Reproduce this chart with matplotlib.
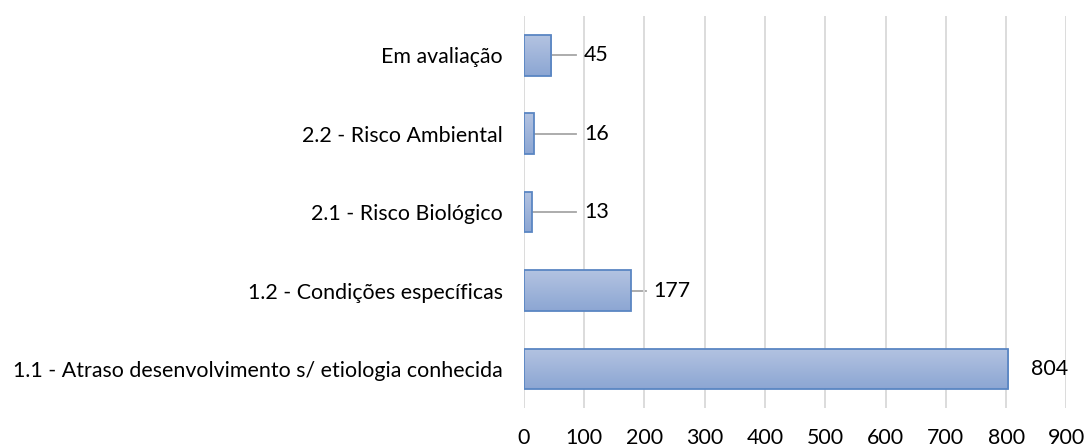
import numpy as np
import matplotlib
matplotlib.use("Agg")
import matplotlib.pyplot as plt
from matplotlib.colors import LinearSegmentedColormap

# categorias de baixo para cima, como no grafico
categorias = [
    "1.1 - Atraso desenvolvimento s/ etiologia conhecida",
    "1.2 - Condições específicas",
    "2.1 - Risco Biológico",
    "2.2 - Risco Ambiental",
    "Em avaliação",
]
valores = [804, 177, 13, 16, 45]
ticks_x = [0, 100, 200, 300, 400, 500, 600, 700, 800, 900]

plt.rcParams['font.family'] = ['Lato', 'DejaVu Sans']
tam = 15.4

fig = plt.figure(figsize=(10.87, 4.47), dpi=100)
ax = fig.add_axes([0.482, 0.087, 0.499, 0.877])

y = np.arange(len(categorias))
barras = ax.barh(y, valores, height=0.52, color='none', edgecolor='#5a86c3',
                 linewidth=1.3, zorder=3)

# degradê dentro de cada barra
cmap = LinearSegmentedColormap.from_list("grad", ["#b3c3e1", "#8ca6d3"])
grad = np.linspace(0, 1, 100).reshape(-1, 1)
for b in barras:
    x0, y0 = b.get_x(), b.get_y()
    w, h = b.get_width(), b.get_height()
    im = ax.imshow(grad, cmap=cmap, aspect='auto', extent=(x0, x0 + w, y0, y0 + h),
                   origin='upper', zorder=2)
    im.set_clip_path(b)

# rótulos com linha de chamada (a barra maior fica sem linha)
for yi, v in zip(y, valores):
    lx = max(v + 38, 100)
    ax.text(lx, yi, str(v), va='center', ha='left', fontsize=tam, color='black', zorder=4)
    if v < max(valores) / 2:
        ax.plot([v, lx - 13], [yi, yi], color='#a6a6a6', lw=1.3, zorder=1)

ax.set_xlim(0, 900)
ax.set_ylim(-0.5, len(categorias) - 0.5)
ax.set_xticks(ticks_x)
ax.set_yticks(y)
ax.set_yticklabels(categorias)
ax.grid(axis='x', color='#d9d9d9', lw=1.3, zorder=0)
for s in ax.spines.values():
    s.set_visible(False)
ax.tick_params(axis='both', length=0, labelsize=tam)
ax.tick_params(axis='y', pad=15)
ax.tick_params(axis='x', pad=14)

fig.savefig("out.png", dpi=100)
